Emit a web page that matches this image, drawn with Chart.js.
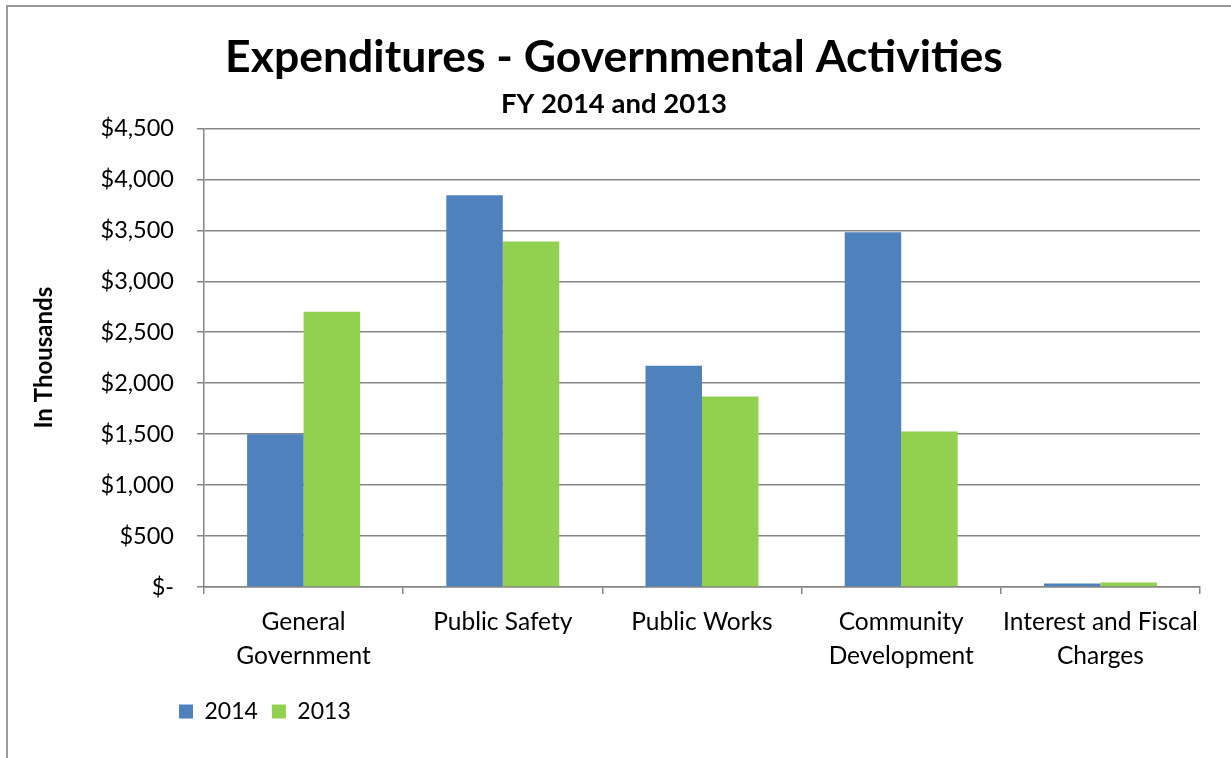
<!DOCTYPE html>
<html>
<head>
<meta charset="utf-8">
<script src="https://cdn.jsdelivr.net/npm/chart.js@4.4.1/dist/chart.umd.min.js"></script>
<style>
  html, body { margin: 0; padding: 0; background: #fff; overflow: hidden; }
  #wrap { position: relative; width: 1231px; height: 758px; }
  #frame { position: absolute; left: 6px; top: 5px; width: 1300px; height: 800px; border: 2px solid #9a9a9a; }
  canvas { position: absolute; left: 0; top: 0; }
</style>
</head>
<body>
<div id="wrap">
  <div id="frame"></div>
  <canvas id="exp-chart" width="1231" height="758"></canvas>
</div>
<script>
// Expenditures by function, in thousands of dollars
const categories = [
    ['General', 'Government'],
    ['Public Safety'],
    ['Public Works'],
    ['Community', 'Development'],
    ['Interest and Fiscal', 'Charges']
];
const fy2014 = [1500, 3845, 2170, 3480, 35];
const fy2013 = [2700, 3390, 1870, 1525, 45];
const yTicks = [0, 500, 1000, 1500, 2000, 2500, 3000, 3500, 4000, 4500];

const FONT = 'Lato, "Open Sans", sans-serif';
const GRID = '#858585';

function money(v) {
    if (v === 0) return '$-';
    return '$' + v.toLocaleString('en-US');
}

// Legend sits under the plot, starting left of the y axis line
const legendShift = {
    id: 'legendShift',
    beforeDraw(chart) {
        if (chart.legend) chart.legend.left = 165;
    }
};

const ctx = document.getElementById('exp-chart');
new Chart(ctx, {
    type: 'bar',
    data: {
        labels: categories,
        datasets: [
            { label: '2014', data: fy2014, backgroundColor: '#4F81BD' },
            { label: '2013', data: fy2013, backgroundColor: '#92D050' }
        ]
    },
    options: {
        responsive: false,
        animation: false,
        devicePixelRatio: 1,
        layout: { padding: { top: 14, left: 28, right: 31, bottom: 25 } },
        datasets: {
            bar: { categoryPercentage: 0.567, barPercentage: 1.0 }
        },
        plugins: {
            title: {
                display: true,
                text: 'Expenditures - Governmental Activities',
                color: '#000',
                font: { family: FONT, size: 44.5, weight: 'bold', lineHeight: 1.2 },
                padding: { top: 17, bottom: 0 }
            },
            subtitle: {
                display: true,
                text: 'FY 2014 and 2013',
                color: '#000',
                font: { family: FONT, size: 27.5, weight: 'bold', lineHeight: 1.2 },
                padding: { top: 3, bottom: 8 }
            },
            legend: {
                position: 'bottom',
                align: 'start',
                labels: {
                    boxWidth: 14,
                    boxHeight: 14,
                    padding: 14,
                    color: '#000',
                    font: { family: FONT, size: 23 }
                }
            },
            tooltip: { enabled: false }
        },
        scales: {
            x: {
                offset: true,
                afterFit: function(scale) { scale.height = 99; },
                grid: {
                    offset: true,
                    drawOnChartArea: false,
                    drawTicks: true,
                    tickLength: 7,
                    color: GRID,
                    lineWidth: 1.5
                },
                border: { color: GRID, width: 1.5 },
                ticks: {
                    color: '#000',
                    padding: 12,
                    maxRotation: 0,
                    font: { family: FONT, size: 24.5, lineHeight: 1.35 }
                }
            },
            y: {
                min: 0,
                max: 4500,
                afterFit: function(scale) { scale.width = 176; },
                afterBuildTicks: function(scale) {
                    scale.ticks = yTicks.map(v => ({ value: v }));
                },
                title: {
                    display: true,
                    text: 'In Thousands',
                    color: '#000',
                    font: { family: FONT, size: 24, weight: 'bold' },
                    padding: 2
                },
                grid: {
                    color: GRID,
                    lineWidth: 1.5,
                    tickLength: 7
                },
                border: { color: GRID, width: 1.5 },
                ticks: {
                    color: '#000',
                    padding: 23,
                    font: { family: FONT, size: 23.5 },
                    callback: function(v) { return money(v); }
                }
            }
        }
    },
    plugins: [legendShift]
});
</script>
</body>
</html>
